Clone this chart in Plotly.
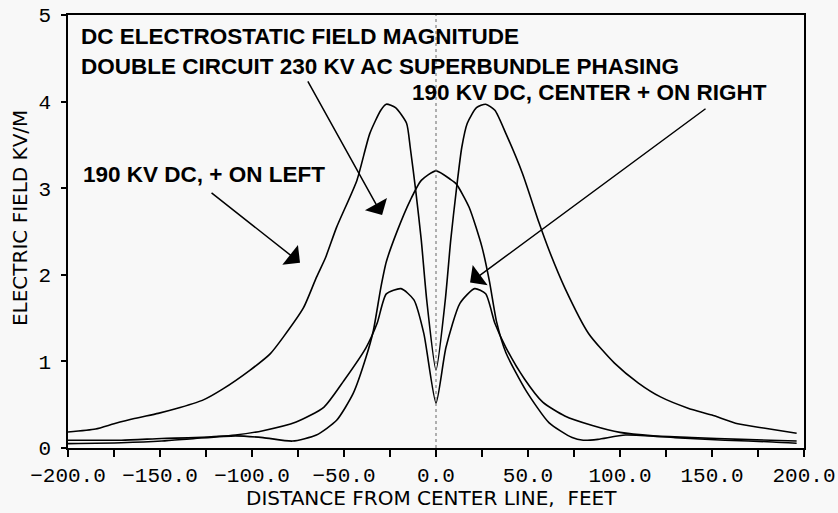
import plotly.graph_objects as go

# ---------------- data ----------------
# Curve with tall twin peaks ("190 KV DC, + ON LEFT")
tall_x = [-200, -185, -175, -164, -151, -142, -127, -116, -101, -90, -83, -72, -65, -60, -54,
          -43, -36, -30, -27, -22, -16, -14, -11, -8, -5, 0,
          5, 8, 11, 14, 17, 22, 27, 32, 38, 47, 56, 61.5, 70, 83, 97, 110, 122, 137, 150,
          164, 178, 196]
tall_y = [0.185, 0.22, 0.28, 0.34, 0.40, 0.45, 0.55, 0.68, 0.90, 1.09, 1.28, 1.62, 1.97, 2.20, 2.55,
          3.09, 3.63, 3.90, 3.97, 3.93, 3.75, 3.47, 2.97, 2.40, 1.70, 0.90,
          1.70, 2.40, 2.97, 3.47, 3.75, 3.93, 3.97, 3.90, 3.63, 3.17, 2.60, 2.28, 1.85, 1.32, 0.98,
          0.75, 0.59, 0.46, 0.38, 0.28, 0.23, 0.17]

# Curve with single central bump
bump_x = [-200, -171, -149, -131, -109, -94, -78, -65, -54, -45, -38, -34, -30, -27, -21, -14,
          -8, 0, 8, 11, 18, 25, 29, 33, 38, 49, 61.5, 74, 80, 88, 103, 130, 157, 183, 196]
bump_y = [0.05, 0.06, 0.08, 0.11, 0.14, 0.12, 0.08, 0.15, 0.32, 0.63, 1.05, 1.36, 1.85, 2.15, 2.51, 2.86,
          3.09, 3.20, 3.10, 3.05, 2.78, 2.32, 1.93, 1.45, 1.10, 0.66, 0.29, 0.12, 0.09, 0.10, 0.15,
          0.12, 0.09, 0.07, 0.055]

# Curve with small twin peaks ("190 KV DC, CENTER + ON RIGHT")
small_x = [-200, -171, -149, -131, -109, -94, -76, -61, -50, -38, -32, -27, -19, -12, -6.6, 0,
           5.4, 13, 21, 27, 32, 38, 48, 58, 70, 85, 100, 118, 139, 166, 196]
small_y = [0.09, 0.09, 0.11, 0.12, 0.15, 0.20, 0.30, 0.47, 0.78, 1.16, 1.44, 1.78, 1.84, 1.71, 1.32, 0.52,
           1.16, 1.67, 1.84, 1.78, 1.44, 1.16, 0.80, 0.53, 0.37, 0.26, 0.18, 0.14, 0.12, 0.10, 0.08]

x_tick_vals = [-200, -175, -150, -125, -100, -75, -50, -25, 0, 25, 50, 75, 100, 125, 150, 175, 200]
x_tick_text = ["\u2212200.0", "", "\u2212150.0", "", "\u2212100.0", "", "\u221250.0", "", "0.0", "",
               "50.0", "", "100.0", "", "150.0", "", "200.0"]
y_tick_vals = [0, 1, 2, 3, 4, 5]
y_tick_text = ["0", "1", "2", "3", "4", "5"]

title_lines = ["DC ELECTROSTATIC FIELD MAGNITUDE",
               "DOUBLE CIRCUIT 230 KV AC SUPERBUNDLE PHASING"]
label_right = "190 KV DC, CENTER + ON RIGHT"
label_left = "190 KV DC, + ON LEFT"
x_title = "DISTANCE FROM CENTER LINE,\u00a0 FEET"
y_title = "ELECTRIC FIELD KV/M"

# ---------------- figure ----------------
BG = "#f8f8f8"
line_style = dict(color="black", width=1.6, shape="spline", smoothing=0.6)

fig = go.Figure()
for xs, ys, nm in [(tall_x, tall_y, label_left), (bump_x, bump_y, "AC superbundle"),
                   (small_x, small_y, label_right)]:
    fig.add_trace(go.Scatter(x=xs, y=ys, mode="lines", line=line_style, name=nm,
                             showlegend=False, hoverinfo="skip"))

tick_font = dict(family="Liberation Mono", size=21, color="black")
fig.update_xaxes(range=[-200, 200], tickvals=x_tick_vals, ticktext=x_tick_text,
                 ticks="outside", ticklen=7, tickwidth=1.5, tickcolor="black",
                 showline=True, linecolor="black", linewidth=1.5, mirror=True,
                 showgrid=False, zeroline=False, tickfont=tick_font, automargin=False)
fig.update_yaxes(range=[0, 5], tickvals=y_tick_vals, ticktext=y_tick_text,
                 ticks="outside", ticklen=5, tickwidth=1.5, tickcolor="black",
                 showline=True, linecolor="black", linewidth=1.5, mirror=True,
                 showgrid=False, zeroline=False, tickfont=tick_font,
                 ticklabelstandoff=6, automargin=False)

# dotted centre line
fig.add_shape(type="line", xref="x", yref="paper", x0=0, x1=0, y0=0, y1=1,
              line=dict(color="#666666", width=1, dash="dot"))

ann_font = dict(family="Liberation Sans", size=22.5, color="black", weight="bold")
texts = [(title_lines[0], 0.0150, 0.9515),
         (title_lines[1], 0.0150, 0.880),
         (label_right, 0.4650, 0.820),
         (label_left, 0.017, 0.6305)]
for t, px, py in texts:
    fig.add_annotation(text=t, xref="paper", yref="paper", x=px, y=py,
                       xanchor="left", yanchor="middle", showarrow=False, font=ann_font)

arrows = [(-29.3, 2.69, -70.1, 4.25),
          (-73.9, 2.14, -122.8, 2.96),
          (18.5, 1.91, 147.3, 3.93)]
for hx, hy, tx, ty in arrows:
    fig.add_annotation(text="", x=hx, y=hy, ax=tx, ay=ty, xref="x", yref="y",
                       axref="x", ayref="y", showarrow=True, arrowhead=1,
                       arrowsize=2.8, arrowwidth=1.5, arrowcolor="black", standoff=0)

title_font = dict(family="DejaVu Sans", size=20, color="black")
fig.add_annotation(text=x_title, xref="paper", yref="paper", x=0.494, y=-0.1155,
                   xanchor="center", yanchor="middle", showarrow=False, font=title_font)
fig.add_annotation(text=y_title, xref="paper", yref="paper", x=-0.0652, y=0.531,
                   xanchor="center", yanchor="middle", textangle=-90, showarrow=False,
                   font=title_font)

fig.update_layout(width=838, height=513, margin=dict(l=68, r=34, t=15, b=65),
                  paper_bgcolor=BG, plot_bgcolor=BG, showlegend=False)

fig.write_html("out.html", config={"displayModeBar": False},
               post_script="document.body.style.margin='0';document.body.style.overflow='hidden';")
